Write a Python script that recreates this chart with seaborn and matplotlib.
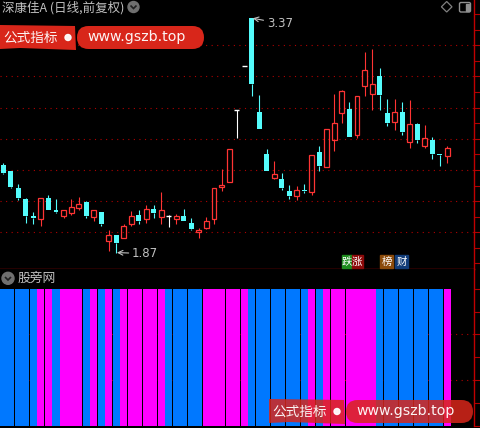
import matplotlib
matplotlib.use("Agg")
import matplotlib.pyplot as plt
import seaborn as sns
import pandas as pd
from matplotlib.patches import FancyBboxPatch, Circle, Rectangle, Polygon

# daily candles (60 sessions)
opens = [2.431, 2.393, 2.284, 2.212, 2.104, 2.087, 2.220, 2.145, 2.106, 2.126,
         2.158, 2.196, 2.100, 2.130, 1.946, 1.983, 1.965, 2.055, 2.111, 2.085,
         2.149, 2.100, 2.104, 2.087, 2.104, 2.060, 2.000, 2.029, 2.087, 2.288,
         2.321, 2.784, 3.066, 3.372, 2.771, 2.502, 2.350, 2.342, 2.265, 2.235,
         2.271, 2.260, 2.515, 2.421, 2.590, 2.762, 2.790, 2.626, 2.940, 2.888,
         3.002, 2.765, 2.709, 2.771, 2.581, 2.694, 2.555, 2.592, 2.500, 2.491]
highs = [2.446, 2.393, 2.310, 2.218, 2.130, 2.218, 2.239, 2.213, 2.141, 2.213,
         2.226, 2.201, 2.143, 2.130, 2.017, 1.983, 2.051, 2.137, 2.143, 2.173,
         2.173, 2.258, 2.111, 2.117, 2.149, 2.092, 2.028, 2.098, 2.282, 2.406,
         2.532, 2.784, 3.066, 3.372, 2.880, 2.534, 2.457, 2.380, 2.303, 2.297,
         2.310, 2.496, 2.553, 2.660, 2.887, 2.915, 2.835, 2.874, 3.156, 3.175,
         3.053, 2.854, 2.854, 2.835, 2.848, 2.699, 2.688, 2.611, 2.500, 2.551]
lows = [2.374, 2.286, 2.207, 2.062, 2.053, 2.042, 2.145, 2.126, 2.094, 2.113,
        2.143, 2.094, 2.072, 2.042, 1.882, 1.870, 1.965, 2.042, 2.055, 2.060,
        2.092, 2.055, 2.034, 2.055, 2.074, 2.015, 1.965, 2.023, 2.055, 2.267,
        2.321, 2.606, 3.066, 2.876, 2.664, 2.395, 2.344, 2.273, 2.215, 2.207,
        2.254, 2.241, 2.395, 2.421, 2.523, 2.703, 2.611, 2.604, 2.876, 2.786,
        2.786, 2.683, 2.658, 2.626, 2.542, 2.574, 2.542, 2.472, 2.427, 2.446]
closes = [2.382, 2.292, 2.222, 2.106, 2.092, 2.218, 2.145, 2.132, 2.141, 2.162,
          2.181, 2.104, 2.143, 2.055, 1.983, 1.933, 2.040, 2.104, 2.072, 2.149,
          2.126, 2.143, 2.104, 2.104, 2.074, 2.021, 2.017, 2.072, 2.282, 2.303,
          2.532, 2.784, 3.066, 2.953, 2.664, 2.395, 2.374, 2.286, 2.235, 2.271,
          2.267, 2.496, 2.427, 2.660, 2.699, 2.906, 2.611, 2.874, 3.038, 2.951,
          2.882, 2.701, 2.771, 2.645, 2.692, 2.594, 2.603, 2.504, 2.497, 2.538]

# lower panel: 1 = magenta, 0 = blue
signal = [0, 0, 0, 0, 0, 1, 1, 0, 1, 1, 1, 0, 1, 0, 1, 0, 1, 1, 1, 1,
          1, 1, 0, 0, 0, 0, 0, 1, 1, 1, 1, 1, 1, 0, 0, 0, 0, 0, 0, 0,
          0, 1, 0, 1, 1, 1, 1, 1, 1, 1, 0, 0, 0, 0, 0, 0, 0, 0, 0, 1]

title = "深康佳A (日线,前复权)"
sub_title = "股旁网"
grid_levels = [2.0, 2.2, 2.4, 2.6, 2.8, 3.0, 3.2]

UP = "#FF3434"
DOWN = "#54FCFC"
FLAT = "#FFFFFF"
MAG = "#FF00FF"
BLUE = "#0078FF"
GRID = "#B00000"
TXT = "#C0C0C0"

sns.set_theme(style="dark", rc={"axes.facecolor": "black", "figure.facecolor": "black"})
plt.rcParams["font.family"] = ["Noto Sans CJK SC", "DejaVu Sans"]

fig = plt.figure(figsize=(4.8, 4.28), dpi=100)
W, H = 480, 428


def px(x, y):
    # figure pixel (top-left origin) -> inches for dpi_scale_trans
    return x / 100, (H - y) / 100


ax = fig.add_axes([0, (H - 269) / H, 474 / W, 269 / H])
ax2 = fig.add_axes([0, (H - 426) / H, 474 / W, 157 / H])

df = pd.DataFrame({"open": opens, "high": highs, "low": lows, "close": closes})
df["i"] = range(len(df))

# ---- candles
bw = 0.66
for _, r in df.iterrows():
    x = r["i"]
    o, c, h, l = r["open"], r["close"], r["high"], r["low"]
    top, bot = max(o, c), min(o, c)
    if c > o:
        col = UP
        ax.bar(x, top - bot, bottom=bot, width=bw, fill=False, edgecolor=col, linewidth=0.9)
    elif c < o:
        col = DOWN
        ax.bar(x, top - bot, bottom=bot, width=bw, color=col, linewidth=0)
    else:
        col = FLAT
        ax.hlines(o, x - bw / 2, x + bw / 2, color=col, linewidth=1.0)
    ax.vlines(x, l, bot, color=col, linewidth=0.8)
    ax.vlines(x, top, h, color=col, linewidth=0.8)

for g in grid_levels:
    ax.axhline(g, color=GRID, linewidth=0.8, linestyle=(0, (1, 4)), zorder=0)

ax.set_xlim(-0.44, 62.55)
ax.set_ylim(2 - 36.7 / 156, 2 + 232.3 / 156)

# high / low markers
hi = df["high"].idxmax()
lo = df["low"].idxmin()
ax.annotate(f"{df.loc[hi, 'high']:.2f}", xy=(hi + 0.15, df.loc[hi, "high"]),
            xytext=(14, -5), textcoords="offset pixels", color=TXT, fontsize=8.5,
            family="DejaVu Sans", ha="left", va="center",
            arrowprops=dict(arrowstyle="->", color=TXT, lw=0.8, shrinkA=0, shrinkB=0))
ax.annotate(f"{df.loc[lo, 'low']:.2f}", xy=(lo + 0.1, df.loc[lo, "low"]),
            xytext=(15, -1), textcoords="offset pixels", color=TXT, fontsize=8.5,
            family="DejaVu Sans", ha="left", va="center",
            arrowprops=dict(arrowstyle="->", color=TXT, lw=0.8, shrinkA=0, shrinkB=0))

# ---- lower panel
sig = pd.DataFrame({"i": range(len(signal)), "v": [6] * len(signal),
                    "kind": ["up" if s else "down" for s in signal]})
for g in [2, 4]:
    ax2.axhline(g, color=GRID, linewidth=0.8, linestyle=(0, (1, 4)), zorder=0)
sns.barplot(data=sig, x="i", y="v", hue="kind", palette={"up": MAG, "down": BLUE},
            saturation=1, width=0.94, dodge=False, legend=False, linewidth=0, ax=ax2, zorder=2)
ax2.set_xlim(-0.44, 62.55)
ax2.set_ylim(0, 157 / 22.9)

# ---- axes styling
for a, ticks in [(ax, [1.8 + 0.1 * k for k in range(17)]), (ax2, list(range(0, 7)))]:
    a.set_xlabel("")
    a.set_ylabel("")
    a.set_xticks([])
    a.yaxis.tick_right()
    a.set_yticks(ticks)
    a.tick_params(axis="y", colors=GRID, length=4, width=0.8, labelright=False)
    a.grid(False)
    for s in ["left", "top"]:
        a.spines[s].set_visible(False)
    a.spines["right"].set_color("#C00000")
    a.spines["right"].set_linewidth(1.0)
ax.spines["bottom"].set_color("#C00000")
ax.spines["bottom"].set_linewidth(1.0)
ax2.spines["bottom"].set_visible(False)

# ---- header texts and icons
T = fig.dpi_scale_trans
fig.text(2 / W, 1 - 7.5 / H, title, color=TXT, fontsize=9, va="center", ha="left")
fig.add_artist(Circle(px(133.5, 7), 0.055, transform=T, color="#707070"))
fig.add_artist(Polygon([px(130.5, 5.5), px(133.5, 8.5), px(136.5, 5.5)], closed=False,
                       fill=False, transform=T, edgecolor="#202020", linewidth=1.2))
fig.text(18 / W, 1 - 278.5 / H, sub_title, color=TXT, fontsize=9.2, va="center", ha="left")
fig.add_artist(Circle(px(8, 278.3), 0.06, transform=T, color="#707070"))
fig.add_artist(Polygon([px(5, 277), px(8, 280), px(11, 277)], closed=False,
                       fill=False, transform=T, edgecolor="#202020", linewidth=1.2))

# top-right icons
fig.add_artist(Polygon([px(446.7, 1.5), px(452, 6.8), px(446.7, 12), px(441.4, 6.8)],
                       closed=True, fill=False, transform=T, edgecolor="#808080", linewidth=0.9))
fig.add_artist(FancyBboxPatch(px(459.5, 12), 0.11, 0.095, boxstyle="round,pad=0,rounding_size=0.015",
                              transform=T, fill=False, edgecolor="#909090", linewidth=1.0))
fig.add_artist(Rectangle(px(465.5, 10.5), 0.035, 0.065, transform=T, color="#909090"))

# small tags
for x, wd, txt, col in [(342, 0.095, "跌", "#1E8C1E"), (351.5, 0.11, "涨", "#8C0A0A"),
                        (380, 0.13, "榜", "#8B4A0A"), (395, 0.13, "财", "#123C78")]:
    fig.add_artist(Rectangle(px(x, 268), wd, 0.13, transform=T, color=col))
    fig.text((x + wd * 50) / W, 1 - 261.5 / H, txt, color="white", fontsize=7.5,
             ha="center", va="center")


# ---- watermark badges
def badge(x0, y0, alpha):
    red = "#D8261A"
    fig.add_artist(Polygon([px(x0, y0 - 1), px(x0 + 75, y0), px(x0 + 76, y0 + 24),
                            px(x0 + 20, y0 + 22), px(x0, y0 + 23)],
                           closed=True, transform=T, color=red, alpha=alpha, linewidth=0))
    fig.text((x0 + 3) / W, 1 - (y0 + 11.5) / H, "公式指标", color="white", fontsize=9.8,
             ha="left", va="center", alpha=0.95)
    fig.add_artist(Circle(px(x0 + 68, y0 + 11.5), 0.03, transform=T, color="white", alpha=0.95))
    fig.add_artist(FancyBboxPatch(px(x0 + 77, y0 + 23), 1.27, 0.23,
                                  boxstyle="round,pad=0,rounding_size=0.115",
                                  transform=T, color=red, alpha=alpha, linewidth=0))
    fig.text((x0 + 87) / W, 1 - (y0 + 11.5) / H, "www.gszb.top", color="white", fontsize=10.2,
             family="DejaVu Sans", ha="left", va="center", alpha=0.95)


badge(0, 26, 1.0)
badge(269, 400, 0.85)

fig.savefig("out.png", dpi=100, facecolor="black")
